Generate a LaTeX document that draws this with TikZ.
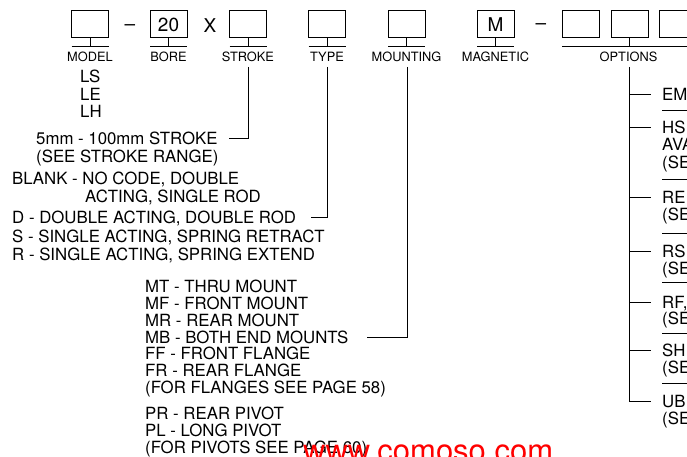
\documentclass[tikz,border=0pt]{standalone}
\usepackage{fontspec}
\setmainfont{TeX Gyre Heros}
\begin{document}
\begin{tikzpicture}[x=1pt,y=-1pt,
  codebox/.style={draw, line width=1pt, minimum width=37pt, minimum height=27pt, inner sep=0pt, font=\fontsize{19}{19}\selectfont},
  lbl/.style={anchor=base, inner sep=0pt, font=\fontsize{12.8}{14}\selectfont},
  txt/.style={anchor=base west, inner sep=0pt, font=\fontsize{16.8}{18}\selectfont},
  big/.style={anchor=base, inner sep=0pt, font=\fontsize{19}{19}\selectfont},
  ln/.style={line width=1pt},
  bar/.style={line width=1.2pt}]
\useasboundingbox (0,0) rectangle (687,457);
\clip (0,0) rectangle (687,457);

% code boxes with bars and labels
\foreach \n/\x/\t/\l in {model/90//MODEL,bore/168.5/20/BORE,stroke/248//STROKE,type/327//TYPE,mount/406.5//MOUNTING,magn/495.5/M/MAGNETIC}{
  \node[codebox] (b\n) at (\x,24.5) {\t};
  \coordinate (s\n) at (\x,46.5);
  \draw[ln] (b\n.south) -- (s\n);
  \draw[bar] (\x-18.5,46.5) -- (\x+18.5,46.5);
  \node[lbl] (l\n) at (\x,62) {\l};
}
\node[big] (dash1) at (130,31) {–};
\node[big] (xsign) at (210,33) {X};
\node[big] (dash2) at (541,30) {–};

% options boxes
\node[codebox] (bopt1) at (580.5,24.5) {};
\node[codebox] (bopt2) at (629.5,24.5) {};
\node[codebox] (bopt3) at (678,24.5) {};
\coordinate (sopt) at (629.5,46.5);
\draw[ln] (bopt2.south) -- (sopt);
\draw[bar] (562,46.5) -- (700,46.5);
\node[lbl] (lopt) at (628.5,62) {OPTIONS};

% model list
\node[txt] (ls) at (80,83) {LS};
\node[txt] (le) at (80,100.5) {LE};
\node[txt] (lh) at (80,118) {LH};

% stroke
\node[txt] (t5mm) at (36,145) {5mm - 100mm STROKE};
\node[txt] (tsee) at (36,162) {(SEE STROKE RANGE)};
\coordinate (cstroke) at (229,139);
\draw[ln] (248.5,67) |- (cstroke);

% type
\node[txt] (tblank) at (12,184.5) {BLANK - NO CODE, DOUBLE};
\node[txt] (tacting) at (85,202) {ACTING, SINGLE ROD};
\node[txt] (td) at (12,223.5) {D - DOUBLE ACTING, DOUBLE ROD};
\node[txt] (ts) at (12,242) {S - SINGLE ACTING, SPRING RETRACT};
\node[txt] (tr) at (12,260) {R - SINGLE ACTING, SPRING EXTEND};
\coordinate (ctype) at (311,217.5);
\draw[ln] (327.5,67) |- (ctype);

% mounting
\node[txt] (mt) at (145,292.5) {MT - THRU MOUNT};
\node[txt] (mf) at (145,309.5) {MF - FRONT MOUNT};
\node[txt] (mr) at (145,326) {MR - REAR MOUNT};
\node[txt] (mb) at (145,343) {MB - BOTH END MOUNTS};
\node[txt] (ff) at (145,359.5) {FF - FRONT FLANGE};
\node[txt] (fr) at (145,376.5) {FR - REAR FLANGE};
\node[txt] (ffl) at (145,393) {(FOR FLANGES SEE PAGE 58)};
\node[txt] (pr) at (145,419.5) {PR - REAR PIVOT};
\node[txt] (pl) at (145,436.5) {PL - LONG PIVOT};
\node[txt] (fpv) at (145,453) {(FOR PIVOTS SEE PAGE 60)};
\coordinate (cmount) at (367,337);
\draw[ln] (407,67) |- (cmount);

% options tree
\coordinate (otop) at (629,67);
\coordinate (ob7) at (651,401);
\draw[ln] (otop) |- (ob7);
\foreach \y in {95,128,197,251,302,350}{
  \draw[ln] (629,\y) -- (651,\y);
}
\foreach \y in {111,179,233,282,333,383}{
  \draw[ln] (662,\y) -- (700,\y);
}
\node[txt] (oem) at (662,101) {EM};
\node[txt] (ohs) at (662,134) {HS};
\node[txt] (oava) at (662,151) {AVA};
\node[txt] (ose1) at (662,168) {(SE};
\node[txt] (ore) at (662,203) {RE};
\node[txt] (ose2) at (662,220) {(SE};
\node[txt] (ors) at (662,257) {RS};
\node[txt] (ose3) at (662,274) {(SE};
\node[txt] (orf) at (662,308) {RF,};
\node[txt] (ose4) at (662,324) {(SE};
\node[txt] (osh) at (662,356) {SH};
\node[txt] (ose5) at (662,373) {(SE};
\node[txt] (oub) at (662,407) {UB};
\node[txt] (ose6) at (662,424) {(SE};

% watermark
\node[anchor=base west, inner sep=0pt, text=red, font=\fontsize{31}{31}\selectfont] (wm) at (303,461) {www.comoso.com};
\end{tikzpicture}
\end{document}
